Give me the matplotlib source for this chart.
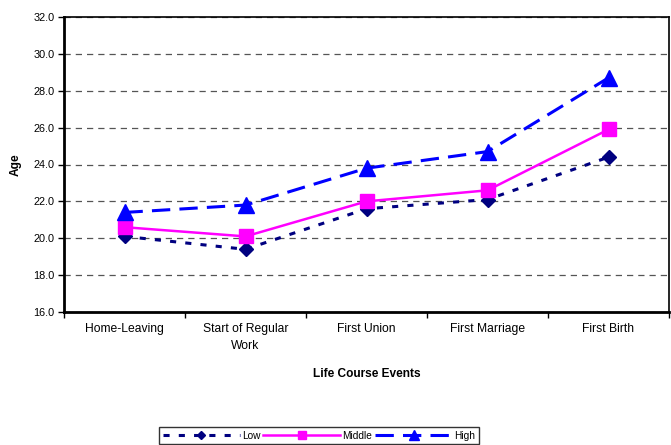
import matplotlib.pyplot as plt
import numpy as np

plt.rcParams['font.family'] = ['Liberation Sans', 'DejaVu Sans']

events = ['Home-Leaving', 'Start of Regular\nWork', 'First Union', 'First Marriage', 'First Birth']
low = [20.1, 19.4, 21.6, 22.1, 24.4]
middle = [20.6, 20.1, 22.0, 22.6, 25.9]
high = [21.4, 21.8, 23.8, 24.7, 28.7]

fig = plt.figure(figsize=(6.71, 4.45), dpi=100)
ax = fig.add_axes([64 / 671, 1 - 312 / 445, 605 / 671, 295 / 445])

x = np.arange(len(events))
ax.plot(x, low, color='#000080', lw=2.2, ls=(0, (2, 3)), marker='D', ms=7, label='Low')
ax.plot(x, middle, color='#ff00ff', lw=1.8, ls='-', marker='s', ms=10, label='Middle')
ax.plot(x, high, color='#0000ff', lw=2.2, ls=(0, (6, 3)), marker='^', ms=11, label='High')

ax.set_xlim(-0.5, len(events) - 0.5)
ax.set_ylim(16, 32)
ax.set_yticks(np.arange(16, 33, 2))
ax.set_yticklabels([f'{v:.1f}' for v in np.arange(16, 33, 2)], fontsize=7.8)
ax.yaxis.grid(True, color='#555555', ls=(0, (5, 4)), lw=0.9)
ax.set_axisbelow(True)

# category labels centred, tick marks on the boundaries
ax.set_xticks(x)
ax.set_xticklabels(events, fontsize=8.7, linespacing=1.5)
ax.tick_params(axis='x', length=0, pad=8)
ax.set_xticks(np.arange(-0.5, len(events)), minor=True)
ax.tick_params(axis='x', which='minor', length=4, width=1)
ax.tick_params(axis='y', length=4, width=1, pad=3)

for side in ['left', 'bottom']:
    ax.spines[side].set_linewidth(2)
for side in ['top', 'right']:
    ax.spines[side].set_linewidth(1.2)

ax.set_xlabel('Life Course Events', fontsize=8.6, fontweight='bold', labelpad=12)
ax.set_ylabel('Age', fontsize=8.6, fontweight='bold', labelpad=8)

leg = fig.legend(loc='upper left', bbox_to_anchor=(159 / 671, 1 - 427 / 445), ncol=3,
                 fontsize=7.3, frameon=True, fancybox=False, edgecolor='black',
                 handlelength=7.6, columnspacing=0.3, handletextpad=0.2,
                 borderpad=0.35, borderaxespad=0, markerscale=0.6)
leg.get_frame().set_linewidth(1)

fig.savefig('out.png', dpi=100)
